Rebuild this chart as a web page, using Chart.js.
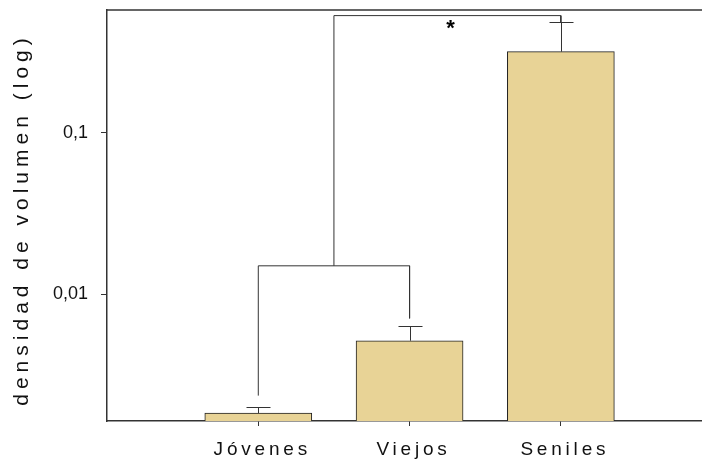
<!DOCTYPE html>
<html>
<head>
<meta charset="utf-8">
<script src="https://cdn.jsdelivr.net/npm/chart.js@4"></script>
<style>
  html, body { margin: 0; padding: 0; background: #fff; }
  #wrap { width: 702px; height: 461px; }
</style>
</head>
<body>
<div id="wrap"><canvas id="c" width="702" height="461"></canvas></div>
<script>
// Volume density per age group (log scale), mean with upper error
const categories = ['Jóvenes', 'Viejos', 'Seniles'];
const categoryPos = [1, 2, 3];
const means = [0.00184, 0.00516, 0.317];
const errUpper = [0.00202, 0.00637, 0.482];
const yTickValues = [0.01, 0.1];
const yTickLabels = ['0,01', '0,1'];
const yTitle = 'densidad de volumen (log)';
// significance brackets as [x, y] vertices
const bracketLow = [[1, 0.00236], [1, 0.0150], [2, 0.0150], [2, 0.0071]];
const bracketHigh = [[1.5, 0.0150], [1.5, 0.53], [3, 0.53], [3, 0.482]];
const starLabel = '*';
const starPos = [2.27, 0.463];
const yRange = [0.001644, 0.574];
const xRange = [0, 3.933];

const INK = '#333';
const FONT = "'Liberation Sans', Arial, sans-serif";

// wrap a scale drawing method so its text is letter-spaced (and optionally nudged)
function withSpacing(scale, method, spacing, dx, dy) {
  if (scale['_ls_' + method]) return;
  const orig = scale[method];
  scale[method] = function (...args) {
    const ctx = this.ctx;
    ctx.save();
    ctx.letterSpacing = spacing;
    ctx.translate(dx, dy);
    orig.apply(this, args);
    ctx.restore();
  };
  scale['_ls_' + method] = true;
}

const extras = {
  id: 'extras',
  beforeDraw(chart) {
    withSpacing(chart.scales.x, 'drawLabels', '3.8px', 4, 0);
    withSpacing(chart.scales.y, 'drawTitle', '5px', 0, 4);
  },
  afterDatasetsDraw(chart) {
    const { ctx, chartArea, scales: { x, y } } = chart;
    ctx.save();
    ctx.strokeStyle = INK;
    ctx.lineWidth = 1;
    // upper error whiskers with caps
    categoryPos.forEach((c, i) => {
      const px = Math.round(x.getPixelForValue(c)) + 0.5;
      const top = y.getPixelForValue(means[i]);
      const cap = Math.round(y.getPixelForValue(errUpper[i])) + 0.5;
      ctx.beginPath();
      ctx.moveTo(px, top);
      ctx.lineTo(px, cap);
      ctx.moveTo(px - 12, cap);
      ctx.lineTo(px + 12, cap);
      ctx.stroke();
    });
    // frame line along the top of the plot
    ctx.lineWidth = 1.5;
    ctx.beginPath();
    ctx.moveTo(chartArea.left, chartArea.top);
    ctx.lineTo(chartArea.right, chartArea.top);
    ctx.stroke();
    // significance marker
    ctx.fillStyle = '#000';
    ctx.font = 'bold 22px ' + FONT;
    ctx.textAlign = 'center';
    ctx.textBaseline = 'middle';
    ctx.fillText(starLabel, x.getPixelForValue(starPos[0]), y.getPixelForValue(starPos[1]) + 4);
    ctx.restore();
  }
};

const bracketStyle = {
  type: 'line',
  borderColor: INK,
  borderWidth: 1,
  pointRadius: 0,
  fill: false,
  tension: 0
};

new Chart(document.getElementById('c'), {
  type: 'bar',
  data: {
    datasets: [
      {
        type: 'bar',
        data: categoryPos.map((c, i) => ({ x: c, y: means[i] })),
        backgroundColor: '#E8D396',
        borderColor: '#222',
        borderWidth: 1,
        barThickness: 107
      },
      Object.assign({ data: bracketLow.map(([bx, by]) => ({ x: bx, y: by })) }, bracketStyle),
      Object.assign({ data: bracketHigh.map(([bx, by]) => ({ x: bx, y: by })) }, bracketStyle)
    ]
  },
  options: {
    responsive: false,
    animation: false,
    devicePixelRatio: 1,
    layout: { padding: { top: 10, right: 0, left: 0, bottom: 0 } },
    plugins: { legend: { display: false }, tooltip: { enabled: false } },
    scales: {
      x: {
        type: 'linear',
        min: xRange[0],
        max: xRange[1],
        offset: false,
        afterFit(s) { s.height = 40; s.paddingLeft = 0; s.paddingRight = 0; },
        afterBuildTicks(s) { s.ticks = categoryPos.map(v => ({ value: v })); },
        grid: { display: true, offset: false, drawOnChartArea: false, drawTicks: true, tickLength: 5, color: INK, lineWidth: 1 },
        border: { display: true, color: INK, width: 1.5 },
        ticks: {
          autoSkip: false,
          maxRotation: 0,
          padding: 12,
          color: '#111',
          font: { family: FONT, size: 19 },
          callback(v) { return categories[categoryPos.indexOf(v)]; }
        }
      },
      y: {
        type: 'logarithmic',
        min: yRange[0],
        max: yRange[1],
        afterFit(s) { s.width = 107; s.paddingTop = 0; s.paddingBottom = 0; },
        afterBuildTicks(s) { s.ticks = yTickValues.map(v => ({ value: v })); },
        grid: { display: true, drawOnChartArea: false, drawTicks: true, tickLength: 6, color: INK, lineWidth: 1 },
        border: { display: true, color: INK, width: 1.5 },
        ticks: {
          autoSkip: false,
          padding: 13,
          color: '#111',
          font: { family: FONT, size: 18 },
          callback(v) {
            const i = yTickValues.findIndex(t => Math.abs(t - v) / t < 1e-6);
            return i >= 0 ? yTickLabels[i] : '';
          }
        },
        title: {
          display: true,
          text: yTitle,
          color: '#111',
          font: { family: FONT, size: 21 },
          padding: { top: 10, bottom: 0 }
        }
      }
    }
  },
  plugins: [extras]
});
</script>
</body>
</html>
